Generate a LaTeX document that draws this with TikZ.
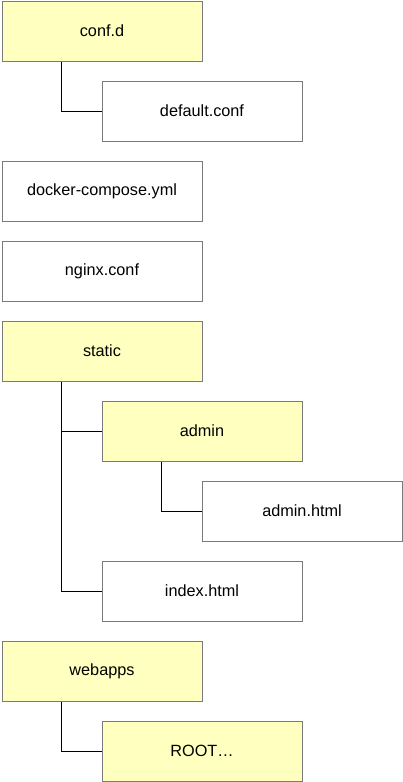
\documentclass[tikz,border=0pt]{standalone}
\usepackage{fontspec}
\setmainfont{Liberation Sans}
\usepackage{tikz}
\usetikzlibrary{positioning}
\definecolor{FolderYellow}{HTML}{FFFFC0}
\definecolor{BoxGray}{HTML}{7A7A7A}
\tikzset{
  filebox/.style={draw=BoxGray, line width=1pt, fill=white, minimum width=200pt,
    minimum height=60pt, inner sep=0pt, font=\fontsize{16.25}{19}\selectfont},
  folderbox/.style={filebox, fill=FolderYellow},
  branch/.style={draw=black, line width=1pt}
}

\begin{document}
\begin{tikzpicture}[x=1pt, y=-1pt]
        \useasboundingbox (0,0) rectangle (402,782);
        % top level
        \node[folderbox] (confd) at (102,31) {conf.d};
        \node[filebox] (default) at (202,111) {default.conf};
        \node[filebox] (compose) at (102,191) {docker-compose.yml};
        \node[filebox] (nginx) at (102,271) {nginx.conf};
        \node[folderbox] (static) at (102,351) {static};
        \node[folderbox] (admin) at (202,431) {admin};
        \node[filebox] (adminhtml) at (302,511) {admin.html};
        \node[filebox] (index) at (202,591) {index.html};
        \node[folderbox] (webapps) at (102,671) {webapps};
        \node[folderbox] (root) at (202,751) {ROOT\dots};
        % branches
        \draw[branch] ([xshift=60pt]confd.south west) |- (default.west);
        \draw[branch] ([xshift=60pt]static.south west) |- (admin.west);
        \draw[branch] ([xshift=60pt]static.south west) |- (index.west);
        \draw[branch] ([xshift=60pt]admin.south west) |- (adminhtml.west);
        \draw[branch] ([xshift=60pt]webapps.south west) |- (root.west);
      \end{tikzpicture}
\end{document}
